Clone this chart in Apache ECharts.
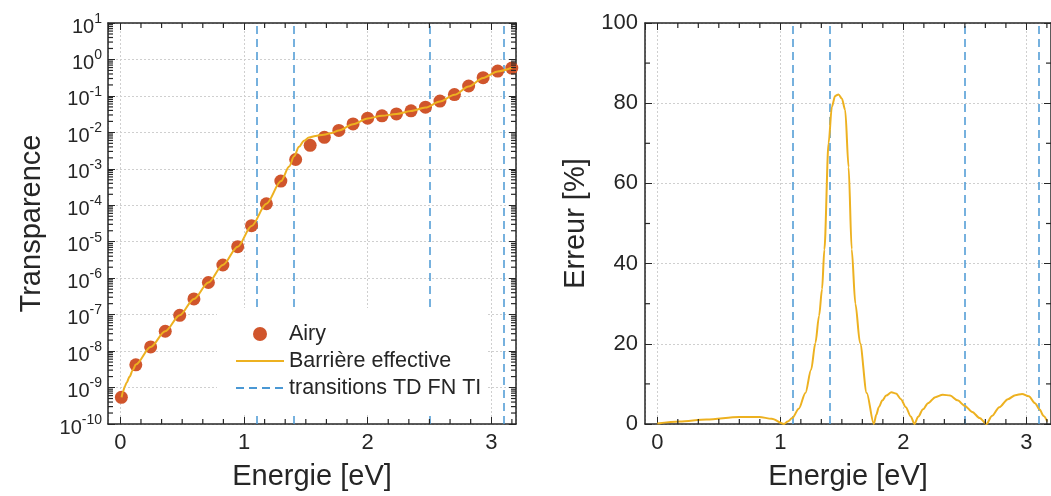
<!DOCTYPE html>
<html>
<head>
<meta charset="utf-8">
<script src="https://cdn.jsdelivr.net/npm/echarts@6/dist/echarts.min.js"></script>
<style>
  html, body { margin: 0; padding: 0; background: #fff; }
  #chart { width: 1051px; height: 496px; }
</style>
</head>
<body>
<div id="chart"></div>
<script>
// Airy (scatter)
const airyE = [0.008, 0.125, 0.245, 0.363, 0.48, 0.595, 0.712, 0.829, 0.949, 1.061, 1.181, 1.298, 1.418, 1.535,
  1.65, 1.767, 1.882, 2.0, 2.116, 2.233, 2.351, 2.468, 2.585, 2.702, 2.817, 2.934, 3.052, 3.166];
const airyT = [5.4e-10, 4.2e-9, 1.3e-8, 3.5e-8, 9.6e-8, 2.7e-7, 7.6e-7, 2.3e-6, 7.3e-6, 2.75e-5, 1.1e-4, 4.6e-4, 1.8e-3, 4.4e-3,
  7.3e-3, 1.13e-2, 1.7e-2, 2.45e-2, 2.85e-2, 3.2e-2, 3.9e-2, 4.9e-2, 7.2e-2, 0.109, 0.187, 0.316, 0.48, 0.58];

// Barriere effective (line)
const effE = [0.01, 0.02, 0.035, 0.05, 0.075, 0.1, 0.125, 0.245, 0.363, 0.48, 0.595, 0.712, 0.829, 0.949, 1.061, 1.181,
  1.3, 1.365, 1.405, 1.445, 1.485, 1.525, 1.578, 1.644, 1.71, 1.767, 1.882, 2.0, 2.116, 2.233, 2.351, 2.468, 2.585,
  2.702, 2.817, 2.934, 3.052, 3.17];
const effT = [5.4e-10, 7.5e-10, 1.05e-9, 1.35e-9, 2.0e-9, 3.0e-9, 4.3e-9, 1.3e-8, 3.5e-8, 9.6e-8, 2.7e-7, 7.6e-7, 2.3e-6, 7.3e-6, 2.7e-5, 1.1e-4,
  4.6e-4, 1.15e-3, 2.2e-3, 4.0e-3, 5.9e-3, 7.2e-3, 8.0e-3, 8.6e-3, 9.6e-3, 1.13e-2, 1.68e-2, 2.4e-2, 2.85e-2, 3.2e-2, 3.85e-2, 4.8e-2, 7.0e-2,
  0.107, 0.18, 0.31, 0.47, 0.6];

// Erreur [%] (right panel)
const errE = [0, 0.18, 0.4, 0.667, 0.828, 0.93, 1.03, 1.06, 1.097, 1.15, 1.204, 1.25, 1.285, 1.315, 1.339, 1.358, 1.392,
  1.419, 1.445, 1.473, 1.5, 1.527, 1.555, 1.58, 1.61, 1.648, 1.702, 1.76, 1.78, 1.8, 1.83, 1.86, 1.903, 1.94, 1.98,
  2.02, 2.06, 2.09, 2.12, 2.16, 2.2, 2.26, 2.32, 2.38, 2.44, 2.5, 2.56, 2.62, 2.675, 2.72, 2.78, 2.85, 2.91, 2.965,
  3.02, 3.07, 3.108, 3.14, 3.17];
const errV = [0.1, 0.6, 1.1, 1.75, 1.75, 1.3, 0, 0.6, 1.5, 3.8, 7.75, 13.5, 20.2, 27, 33.6, 43.5, 70,
  79.1, 81.8, 82.2, 81.2, 78.3, 64, 43.6, 30, 20.2, 7.75, 0, 2.3, 4.2, 5.9, 7.1, 7.9, 7.6, 6.2,
  4.2, 1.9, 0, 1.8, 3.7, 5.2, 6.7, 7.3, 7.1, 5.9, 4.5, 3.0, 1.5, 0, 2.0, 4.2, 6.2, 7.2, 7.5,
  6.9, 5.2, 3.6, 2.0, 0.6];

// transitions TD / FN / TI
const transitions = [1.1, 1.4, 2.5, 3.1];

const xRange = [-0.1, 3.2];
const logRange = [1e-10, 10];
const errRange = [0, 100];

const FONT = "'Liberation Sans', Arial, sans-serif";
const INK = '#262626';
const C_AIRY = '#D0552C';
const C_EFF = '#EDB120';
const C_TR = '#4A98D4';

function zip(a, b) { return a.map((v, i) => [v, b[i]]); }

// minor tick positions (axis decoration only)
const xMinor = [];
for (let i = 1; i / 6 < xRange[1]; i++) if (i % 6) xMinor.push(i / 6);
const logMinor = [];
for (let k = -10; k <= 0; k++) for (let m = 2; m <= 9; m++) logMinor.push(m * Math.pow(10, k));
const errMinor = [10, 30, 50, 70, 90];

const axisLine = { show: true, onZero: false, lineStyle: { color: INK, width: 1.5 } };
const tick = { show: true, inside: true, length: 7, lineStyle: { color: INK, width: 1 } };
const split = { show: true, lineStyle: { color: '#cfcfcf', type: [2, 2], width: 1 } };
const label = { color: INK, fontSize: 22, fontFamily: FONT };
const nameStyle = { color: INK, fontSize: 29, fontFamily: FONT };

function xAxes(gi) {
  return [
    { type: 'value', gridIndex: gi, min: xRange[0], max: xRange[1], splitNumber: 3, position: 'bottom',
      axisLine, axisTick: tick, splitLine: split,
      axisLabel: Object.assign({ margin: 8, showMinLabel: false, showMaxLabel: false }, label),
      name: 'Energie [eV]', nameLocation: 'middle', nameGap: 38, nameTextStyle: nameStyle },
    { type: 'value', gridIndex: gi, min: xRange[0], max: xRange[1], splitNumber: 3, position: 'top',
      axisLine, axisTick: tick, splitLine: { show: false }, axisLabel: { show: false } },
  ];
}

const logLabel = {
  margin: 6,
  formatter: (v) => '{b|10}{s|' + Math.round(Math.log10(v)) + '}',
  rich: {
    b: { fontSize: 20, fontFamily: FONT, color: INK, lineHeight: 22, padding: [8, 0, 0, 0] },
    s: { fontSize: 14, fontFamily: FONT, color: INK, lineHeight: 15, padding: [0, 0, 8, 0] },
  },
};

const noIcon = { color: 'rgba(0,0,0,0)', borderColor: 'rgba(0,0,0,0)', borderWidth: 0 };

const option = {
  animation: false,
  backgroundColor: '#fff',
  textStyle: { fontFamily: FONT },
  grid: [
    { left: 108, right: 535, top: 23, bottom: 72 },
    { left: 645, right: -4, top: 23, bottom: 72 },
  ],
  xAxis: xAxes(0).concat(xAxes(1)),
  yAxis: [
    { type: 'log', gridIndex: 0, min: logRange[0], max: logRange[1], logBase: 10, interval: 1, position: 'left',
      axisLine, axisTick: tick, splitLine: split, axisLabel: logLabel,
      name: 'Transparence', nameLocation: 'middle', nameGap: 62, nameTextStyle: nameStyle },
    { type: 'log', gridIndex: 0, min: logRange[0], max: logRange[1], logBase: 10, interval: 1, position: 'right',
      axisLine, axisTick: tick, splitLine: { show: false }, axisLabel: { show: false } },
    { type: 'value', gridIndex: 1, min: errRange[0], max: errRange[1], interval: 20, position: 'left',
      axisLine, axisTick: tick, splitLine: split, axisLabel: Object.assign({ margin: 7 }, label),
      name: 'Erreur [%]', nameLocation: 'middle', nameGap: 55, nameTextStyle: nameStyle },
    { type: 'value', gridIndex: 1, min: errRange[0], max: errRange[1], interval: 20, position: 'right',
      axisLine, axisTick: tick, splitLine: { show: false }, axisLabel: { show: false } },
  ],
  legend: {
    data: [
      { name: 'Airy', icon: 'circle' },
      { name: 'Barrière effective', itemStyle: noIcon },
      { name: 'transitions TD FN TI', itemStyle: noIcon },
    ],
    orient: 'vertical', left: 217, top: 308, z: 10,
    padding: [15, 6, 15, 18],
    itemWidth: 48, itemHeight: 14, itemGap: 5,
    backgroundColor: '#fff',
    textStyle: { color: INK, fontSize: 21.5, fontFamily: FONT, lineHeight: 21.5 },
    selectedMode: false,
  },
  series: [
    { name: 'transitions TD FN TI', type: 'line', xAxisIndex: 0, yAxisIndex: 0, data: [],
      symbol: 'none', lineStyle: { color: C_TR, type: [8, 5], width: 1.5 }, itemStyle: { color: C_TR },
      markLine: { silent: true, symbol: 'none', label: { show: false }, animation: false, z: 3,
        lineStyle: { color: C_TR, type: [8, 5], width: 1.5 },
        data: transitions.map((x) => ({ xAxis: x })) } },
    { name: 'Barrière effective', type: 'line', xAxisIndex: 0, yAxisIndex: 0, data: zip(effE, effT),
      symbol: 'none', smooth: 0.3, smoothMonotone: 'x', lineStyle: { color: C_EFF, width: 2 }, itemStyle: { color: C_EFF }, z: 4 },
    { name: 'Airy', type: 'scatter', xAxisIndex: 0, yAxisIndex: 0, data: zip(airyE, airyT),
      symbolSize: 13, itemStyle: { color: C_AIRY, opacity: 1 }, z: 3 },
    { name: 'transitions (err)', type: 'line', xAxisIndex: 2, yAxisIndex: 2, data: [],
      symbol: 'none', lineStyle: { color: C_TR, type: [8, 5], width: 1.5 },
      markLine: { silent: true, symbol: 'none', label: { show: false }, animation: false, z: 3,
        lineStyle: { color: C_TR, type: [8, 5], width: 1.5 },
        data: transitions.map((x) => ({ xAxis: x })) } },
    { name: 'Erreur', type: 'line', xAxisIndex: 2, yAxisIndex: 2, data: zip(errE, errV),
      symbol: 'none', smooth: 0.3, smoothMonotone: 'x', lineStyle: { color: C_EFF, width: 2 }, z: 4 },
  ],
};

const chart = echarts.init(document.getElementById('chart'));
chart.setOption(option);

// minor ticks on the four sides of each frame, placed through the axes' own scales
const tickEls = [];
function seg(seriesIndex, value, dx, dy, len) {
  const p = chart.convertToPixel({ seriesIndex: seriesIndex }, value);
  if (!p || isNaN(p[0]) || isNaN(p[1])) return;
  tickEls.push({
    type: 'line', z: 10,
    shape: { x1: p[0], y1: p[1], x2: p[0] + dx * len, y2: p[1] + dy * len },
    style: { stroke: INK, lineWidth: 1.2 },
  });
}
function frameTicks(seriesIndex, yR, yVals) {
  xMinor.forEach((x) => { seg(seriesIndex, [x, yR[0]], 0, -1, 5); seg(seriesIndex, [x, yR[1]], 0, 1, 5); });
  yVals.forEach((y) => { seg(seriesIndex, [xRange[0], y], 1, 0, 5); seg(seriesIndex, [xRange[1], y], -1, 0, 5); });
}
frameTicks(2, logRange, logMinor);
frameTicks(4, errRange, errMinor);
chart.setOption({ graphic: { elements: tickEls } });
</script>
</body>
</html>
